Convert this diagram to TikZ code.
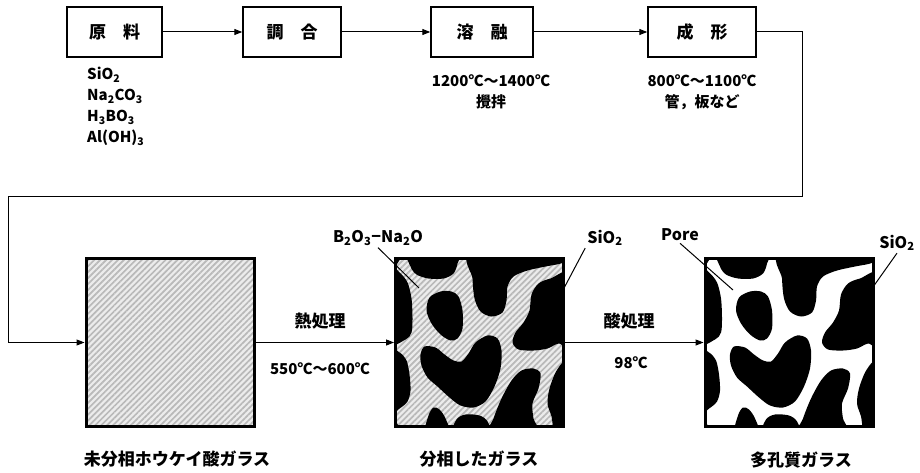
\documentclass[tikz,border=0pt]{standalone}
\usepackage{fontspec}
\setmainfont{Noto Sans CJK JP}
\usepackage{tikz}
\usetikzlibrary{arrows.meta,patterns.meta}

\begin{document}
\begin{tikzpicture}[x=1pt, y=-1pt]
    \path[use as bounding box, fill=white] (0,0) rectangle (920,473);

    % Style for nodes
    \tikzset{
        procbox/.style={draw, line width=1.4pt, minimum height=50pt, inner sep=0pt, font=\bfseries\fontsize{17}{20}\selectfont},
        glassbox/.style={minimum size=168pt, inner sep=0pt, outer sep=0pt},
        frame/.style={line width=3pt},
        cond/.style={inner sep=0pt, align=center, font=\bfseries\fontsize{15}{21}\selectfont},
        tag/.style={inner sep=2pt, font=\bfseries\fontsize{17}{20}\selectfont},
        phase/.style={inner sep=2pt, font=\bfseries\fontsize{16}{18}\selectfont},
        flow/.style={line width=1pt, -{Triangle[length=8pt, width=6pt]}},
        leader/.style={line width=1pt}
    }

    % grey striped glass (clipped by the node)
    \def\hatch{%
        \fill[gray!15] (path picture bounding box.south west) rectangle (path picture bounding box.north east);
        \fill[pattern={Lines[angle=45, distance=4.2pt, line width=1.7pt]}, pattern color=gray!55]
            (path picture bounding box.south west) rectangle (path picture bounding box.north east);
    }
    % SiO2 skeleton, local coords 0..168 from the top left corner
    \def\poreblobs#1{%
        \begin{scope}
        \clip (#1.north west) rectangle (#1.south east);
        \begin{scope}[shift={(#1.north west)}]
        \fill (0,0) -- (5,0) -- (0,8) -- cycle;
        \fill (0,161) -- (3,168) -- (0,168) -- cycle;
        \fill plot[smooth cycle] coordinates {(14,-6) (15,8) (21,16) (33,20) (48,20) (58,15) (62,5) (62,-6)};
        \fill plot[smooth cycle] coordinates {(77,-6) (77,20) (79,40) (85,53) (96,58) (107,54) (111,42) (112,28) (118,18) (132,12) (150,8) (168,4) (176,-6)};
        \fill plot[smooth cycle] coordinates {(176,16) (155,20) (143,25) (136,36) (134,52) (128,64) (120,74) (117,84) (123,91) (138,92) (152,90) (163,85) (176,86)};
        \fill plot[smooth cycle] coordinates {(45,33) (56,33) (63,38) (67,52) (67,70) (62,80) (55,82) (45,76) (36,65) (31,52) (34,39)};
        \fill plot[smooth cycle] coordinates {(29,88) (40,89) (49,96) (58,102) (66,103) (73,95) (80,84) (92,77) (102,80) (106,92) (105,110) (99,128) (90,143) (78,149) (65,147) (54,139) (42,128) (32,119) (26,107) (25,96)};
        \fill plot[smooth cycle] coordinates {(-6,10) (4,14) (12,24) (16,40) (17,60) (16,74) (10,81) (-6,82)};
        \fill plot[smooth cycle] coordinates {(-6,93) (4,94) (11,102) (14,116) (15,132) (12,143) (4,150) (-6,154)};
        \fill plot[smooth cycle] coordinates {(30,176) (33,157) (38,149) (44,151) (50,160) (54,176)};
        \fill plot[smooth cycle] coordinates {(58,176) (61,161) (70,156) (84,157) (92,163) (94,176)};
        \fill plot[smooth cycle] coordinates {(94,176) (98,160) (106,140) (116,122) (126,112) (138,110) (145,115) (143,130) (137,145) (138,160) (142,176)};
        \fill plot[smooth cycle] coordinates {(176,100) (168,103) (160,114) (154,130) (152,145) (156,158) (160,176) (176,176)};
        \end{scope}
        \end{scope}
    }

    % --- PROCESS STEPS ---
    \node[procbox, minimum width=95pt]  (raw)  at (114.5,32) {原　料};
    \node[procbox, minimum width=98pt]  (mix)  at (292,32)   {調　合};
    \node[procbox, minimum width=102pt] (melt) at (482,32)   {溶　融};
    \node[procbox, minimum width=108pt] (form) at (702,32)   {成　形};

    \node[cond, anchor=north west, align=left] (rawlist) at (87,67)
        {SiO\textsubscript{2}\\Na\textsubscript{2}CO\textsubscript{3}\\H\textsubscript{3}BO\textsubscript{3}\\Al(OH)\textsubscript{3}};
    \node[cond] (meltcond) at (491,92) {1200℃～1400℃\\攪拌};
    \node[cond] (formcond) at (702,92) {800℃～1100℃\\管，板など};

    % --- GLASS SECTIONS ---
    \node[glassbox, path picture={\hatch}] (glass1) at (170,342.5) {};
    \node[glassbox, path picture={\hatch}] (glass2) at (479.5,342.5) {};
    \node[glassbox] (glass3) at (789,342.5) {};
    \poreblobs{glass2}
    \poreblobs{glass3}
    \foreach \g in {glass1,glass2,glass3}
        \draw[frame] (\g.north west) rectangle (\g.south east);

    \node[tag] (heat)     at (320,321) {熱処理};
    \node[cond] (heatcond) at (320,369) {550℃〜600℃};
    \node[tag] (acid)     at (629,321) {酸処理};
    \node[cond] (acidcond) at (631,363) {98℃};

    \node[tag] (name1) at (177,459) {未分相ホウケイ酸ガラス};
    \node[tag] (name2) at (479,459) {分相したガラス};
    \node[tag] (name3) at (801,460) {多孔質ガラス};

    % --- CONNECTIONS ---
    \draw[flow] (raw) -- (mix);
    \draw[flow] (mix) -- (melt);
    \draw[flow] (melt) -- (form);
    \coordinate (bendR) at (802,196);
    \coordinate (bendL) at (8,196);
    \draw[flow, shorten >=1.5pt] (form.east) -| (bendR) -- (bendL) |- (glass1.west);
    \draw[flow, shorten <=1.5pt, shorten >=1.5pt] (glass1) -- (glass2);
    \draw[flow, shorten <=1.5pt, shorten >=1.5pt] (glass2) -- (glass3);

    % --- PHASE LABELS ---
    \node[phase] (lblBN)   at (378,238) {B\textsubscript{2}O\textsubscript{3}−Na\textsubscript{2}O};
    \node[phase] (lblSiA)  at (605,238) {SiO\textsubscript{2}};
    \node[phase] (lblPore) at (680,235) {Pore};
    \node[phase] (lblSiB)  at (897,243) {SiO\textsubscript{2}};
    \coordinate (ptBN)   at (419,288);
    \coordinate (ptSiA)  at (563,290);
    \coordinate (ptPore) at (733,290);
    \coordinate (ptSiB)  at (873,287);
    \draw[leader] (lblBN.south) -- (ptBN);
    \draw[leader] (lblSiA.south west) -- (ptSiA);
    \draw[leader] (lblPore.south) -- (ptPore);
    \draw[leader] (lblSiB.south) -- (ptSiB);

\end{tikzpicture}
\end{document}
